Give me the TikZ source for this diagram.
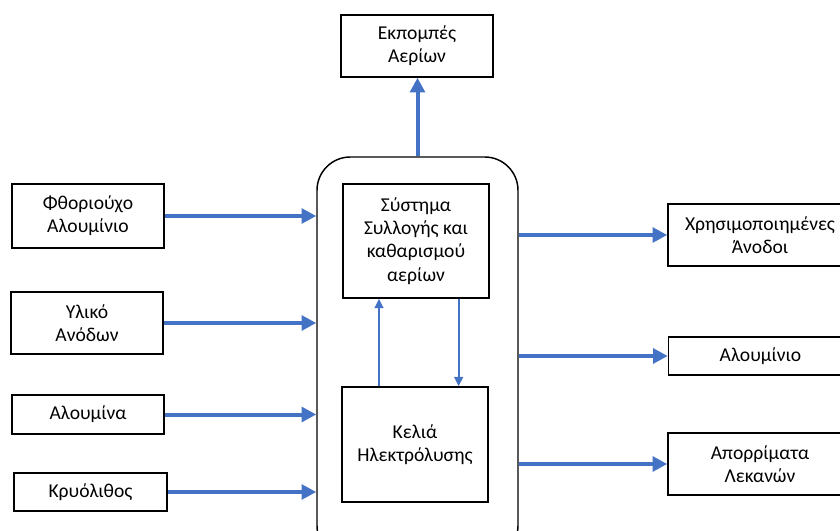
\documentclass[tikz,border=0pt]{standalone}
\usepackage{fontspec}
\setmainfont{Carlito}
\usetikzlibrary{arrows.meta,calc}
\definecolor{arrowblue}{HTML}{4472C4}
\begin{document}
\begin{tikzpicture}[x=0.75pt,y=-0.75pt,
  box/.style={draw=black,line width=1.1pt,align=center,inner sep=0pt,
    font=\fontsize{14.7}{17.5}\selectfont},
  flow/.style={draw=arrowblue,line width=3pt,-{Triangle[length=11pt,width=11pt]}},
  innerflow/.style={draw=arrowblue,line width=1.6pt,-{Triangle[length=7pt,width=6.5pt]}}]
\useasboundingbox (0,0) rectangle (840,531);
\clip (0,0) rectangle (840,531);
% central container
\node[box,rounded corners=25pt,minimum width=150.75pt,minimum height=301.5pt] (big) at (417.5,358) {};
\node[box,minimum width=109.5pt,minimum height=85.5pt] (sys) at (416,241) {Σύστημα\\Συλλογής και\\καθαρισμού\\αερίων};
\node[box,minimum width=109.5pt,minimum height=86.25pt] (cell) at (415,444.5) {Κελιά\\Ηλεκτρόλυσης};
% top output
\node[box,minimum width=114pt,minimum height=46.5pt] (top) at (417,46) {Εκπομπές\\Αερίων};
% inputs
\node[box,minimum width=114pt,minimum height=48pt] (l1) at (88,216) {Φθοριούχο\\Αλουμίνιο};
\node[box,minimum width=114pt,minimum height=46.5pt] (l2) at (87,323) {Υλικό\\Ανόδων};
\node[box,minimum width=114pt,minimum height=29.25pt] (l3) at (88,414.5) {Αλουμίνα};
\node[box,minimum width=114.75pt,minimum height=28.5pt] (l4) at (90.5,492) {Κρυόλιθος};
% outputs
\node[box,minimum width=138pt,minimum height=46.5pt] (r1) at (760,235) {Χρησιμοποιημένες\\Άνοδοι};
\node[box,minimum width=138pt,minimum height=28.5pt] (r2) at (760.5,356) {Αλουμίνιο};
\node[box,minimum width=138pt,minimum height=46.5pt] (r3) at (760,464) {Απορρίματα\\Λεκανών};
% connectors
\draw[flow] (big.north) -- (big.north |- top.south);
\foreach \n in {l1,l2,l3,l4}
  \draw[flow] (\n.east) -- (\n.east -| big.west);
\foreach \n in {r1,r2,r3}
  \draw[flow] (big.east |- \n.west) -- (\n.west);
\draw[innerflow] ([xshift=-27pt]cell.north) -- ([xshift=-27pt]cell.north |- sys.south);
\draw[innerflow] ([xshift=32pt]sys.south) -- ([xshift=32pt]sys.south |- cell.north);
\end{tikzpicture}
\end{document}
